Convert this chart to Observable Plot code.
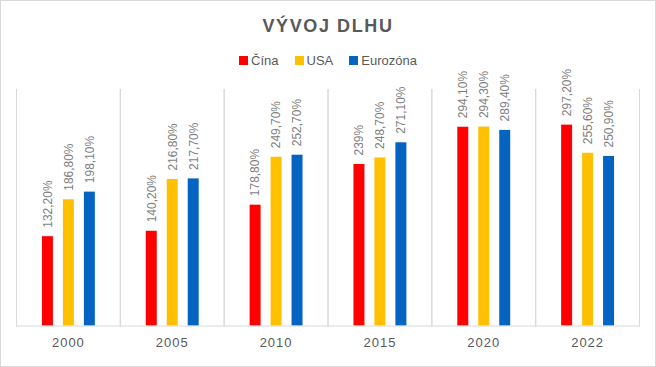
<!DOCTYPE html>
<html>
<head>
<meta charset="utf-8">
<script src="https://cdn.jsdelivr.net/npm/d3@7"></script>
<script src="https://cdn.jsdelivr.net/npm/@observablehq/plot@0.6"></script>
<style>
  html, body { margin: 0; padding: 0; background: #fff; }
  #chart { position: relative; width: 656px; height: 367px; box-sizing: border-box; border: 1px solid #d9d9d9; font-family: "Liberation Sans", Arial, sans-serif; overflow: hidden; }
  #title { position: absolute; z-index: 2; top: 15px; left: 0; right: 0; text-align: center; font-size: 18px; font-weight: bold; letter-spacing: 1.6px; color: #595959; }
  #legend { position: absolute; z-index: 2; top: 52px; left: 0; right: 0; display: flex; justify-content: center; gap: 16px; font-size: 13px; color: #595959; }
  #legend .item { display: flex; align-items: center; gap: 3px; }
  #legend .sw { width: 9px; height: 9px; display: inline-block; }
  #plot { position: absolute; z-index: 1; top: 39px; left: -1px; }
  #plot g[aria-label="fx-axis tick label"] text { letter-spacing: 1px; }
</style>
</head>
<body>
<div id="chart">
  <div id="title">VÝVOJ DLHU</div>
  <div id="legend"></div>
  <div id="plot"></div>
</div>
<script>
const years = ["2000", "2005", "2010", "2015", "2020", "2022"];
const series = ["Čína", "USA", "Eurozóna"];
const colors = ["#ff0000", "#ffc000", "#0563c1"];
const cina = [132.2, 140.2, 178.8, 239, 294.1, 297.2];
const usa = [186.8, 216.8, 249.7, 248.7, 294.3, 255.6];
const euro = [198.1, 217.7, 252.7, 271.1, 289.4, 250.9];

const valuesBySeries = [cina, usa, euro];
const data = [];
years.forEach((y, i) => {
  series.forEach((s, j) => data.push({year: y, series: s, value: valuesBySeries[j][i]}));
});
const fmt = v => (Number.isInteger(v) ? String(v) : v.toFixed(2)).replace(".", ",") + "%";

const legend = document.getElementById("legend");
series.forEach((s, j) => {
  const it = document.createElement("span");
  it.className = "item";
  it.innerHTML = `<span class="sw" style="background:${colors[j]}"></span><span>${s}</span>`;
  legend.appendChild(it);
});

const chart = Plot.plot({
  width: 656,
  height: 327,
  marginTop: 49,
  marginBottom: 41,
  marginLeft: 14,
  marginRight: 15,
  style: {fontFamily: "'Liberation Sans', Arial, sans-serif", background: "transparent"},
  fx: {domain: years, padding: 0, label: null},
  x: {domain: series, axis: null, paddingInner: 0.49, paddingOuter: 1.17},
  y: {domain: [0, 350], axis: null},
  color: {domain: series, range: colors},
  marks: [
    Plot.frame({anchor: "left", stroke: "#d9d9d9"}),
    Plot.frame({anchor: "right", stroke: "#d9d9d9"}),
    Plot.barY(data, {fx: "year", x: "series", y: "value", fill: "series"}),
    Plot.ruleY([0], {stroke: "#d9d9d9"}),
    Plot.text(data, {fx: "year", x: "series", y: "value", text: d => fmt(d.value), rotate: -90, textAnchor: "start", dy: -9, fill: "#7f7f7f", fontSize: 12}),
    Plot.axisFx({tickSize: 0, tickPadding: 12, fontSize: 13, color: "#595959", label: null, anchor: "bottom"})
  ]
});
document.getElementById("plot").appendChild(chart);
</script>
</body>
</html>
